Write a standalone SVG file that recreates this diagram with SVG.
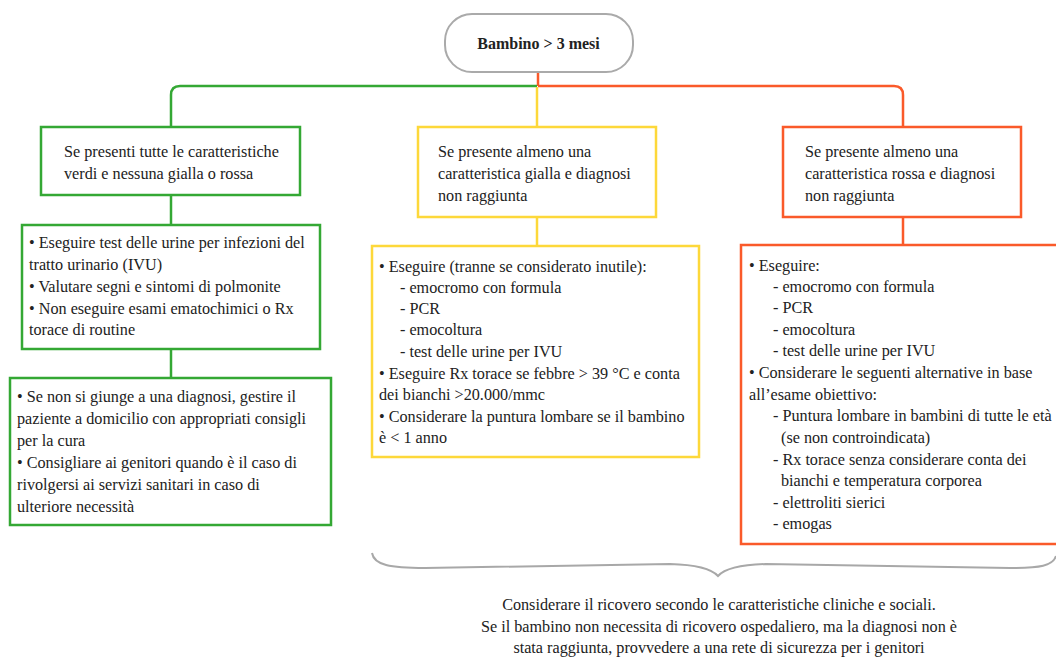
<svg xmlns="http://www.w3.org/2000/svg" width="1056" height="657" viewBox="0 0 1056 657">
  <style>
    .t { font-family: "Liberation Serif", "Times New Roman", Times, serif; font-size: 16.2px; fill: #222; }
    .b { font-weight: bold; font-size: 16px; }
    .box { fill: #fff; stroke-width: 2.5; }
    .g { stroke: #34A834; }
    .y { stroke: #FDD83A; }
    .r { stroke: #FA5A2A; }
    .line { fill: none; stroke-width: 2.5; }
  </style>
  <rect width="1056" height="657" fill="#fff"/>

  <!-- connectors -->
  <g id="connectors">
    <path class="line r" d="M538 72 V86"/>
    <path class="line g" d="M537 86 H180 Q171 86 171 95 V127"/>
    <path class="line r" d="M538 86 H894 Q903 86 903 95 V127"/>
    <path class="line y" d="M537 87 V127"/>
    <path class="line g" d="M171 195 V225"/>
    <path class="line g" d="M171 349 V378"/>
    <path class="line y" d="M537 217 V246"/>
    <path class="line r" d="M903 217 V245"/>
    <!-- brace gathering all branches -->
    <path d="M372 553 C374 565 390 568 425 568 L670 564 Q708 565 718 576 Q728 565 766 564 L1010 568 C1040 568 1053 566 1056 556" fill="none" stroke="#A8A8A8" stroke-width="2"/>
  </g>

  <g id="start">
    <rect x="445" y="14" width="188" height="58" rx="27" fill="#fff" stroke="#AAAAAA" stroke-width="2"/>
    <text class="t b" x="538.5" y="48.5" text-anchor="middle">Bambino &gt; 3 mesi</text>
  </g>

  <g id="green-condition">
    <rect class="box g" x="41" y="127" width="259" height="68"/>
    <text class="t" x="64" y="157">Se presenti tutte le caratteristiche</text>
    <text class="t" x="64" y="179">verdi e nessuna gialla o rossa</text>
  </g>

  <g id="yellow-condition">
    <rect class="box y" x="418" y="127" width="238" height="90"/>
    <text class="t" x="438" y="157">Se presente almeno una</text>
    <text class="t" x="438" y="179">caratteristica gialla e diagnosi</text>
    <text class="t" x="438" y="201">non raggiunta</text>
  </g>

  <g id="red-condition">
    <rect class="box r" x="783" y="127" width="238" height="90"/>
    <text class="t" x="805" y="157">Se presente almeno una</text>
    <text class="t" x="805" y="179">caratteristica rossa e diagnosi</text>
    <text class="t" x="805" y="201">non raggiunta</text>
  </g>

  <g id="green-actions">
    <rect class="box g" x="22" y="225" width="298" height="124"/>
    <text class="t" x="29" y="248">• Eseguire test delle urine per infezioni del</text>
    <text class="t" x="29" y="270">tratto urinario (IVU)</text>
    <text class="t" x="29" y="292">• Valutare segni e sintomi di polmonite</text>
    <text class="t" x="29" y="314">• Non eseguire esami ematochimici o Rx</text>
    <text class="t" x="29" y="335">torace di routine</text>
  </g>

  <g id="green-followup">
    <rect class="box g" x="10" y="378" width="321" height="147"/>
    <text class="t" x="17" y="402">• Se non si giunge a una diagnosi, gestire il</text>
    <text class="t" x="17" y="424">paziente a domicilio con appropriati consigli</text>
    <text class="t" x="17" y="446">per la cura</text>
    <text class="t" x="17" y="468">• Consigliare ai genitori quando è il caso di</text>
    <text class="t" x="17" y="490">rivolgersi ai servizi sanitari in caso di</text>
    <text class="t" x="17" y="512">ulteriore necessità</text>
  </g>

  <g id="yellow-actions">
    <rect class="box y" x="372" y="246" width="327" height="211"/>
    <text class="t" x="379" y="272">• Eseguire (tranne se considerato inutile):</text>
    <text class="t" x="400" y="293">- emocromo con formula</text>
    <text class="t" x="400" y="314">- PCR</text>
    <text class="t" x="400" y="335">- emocoltura</text>
    <text class="t" x="400" y="357">- test delle urine per IVU</text>
    <text class="t" x="379" y="379">• Eseguire Rx torace se febbre &gt; 39 °C e conta</text>
    <text class="t" x="379" y="400">dei bianchi &gt;20.000/mmc</text>
    <text class="t" x="379" y="422">• Considerare la puntura lombare se il bambino</text>
    <text class="t" x="379" y="443">è &lt; 1 anno</text>
  </g>

  <g id="red-actions">
    <rect class="box r" x="741" y="245" width="330" height="299"/>
    <text class="t" x="749" y="271">• Eseguire:</text>
    <text class="t" x="773" y="292">- emocromo con formula</text>
    <text class="t" x="773" y="313">- PCR</text>
    <text class="t" x="773" y="335">- emocoltura</text>
    <text class="t" x="773" y="356">- test delle urine per IVU</text>
    <text class="t" x="749" y="378">• Considerare le seguenti alternative in base</text>
    <text class="t" x="749" y="400">all’esame obiettivo:</text>
    <text class="t" x="773" y="421">- Puntura lombare in bambini di tutte le età</text>
    <text class="t" x="781" y="443">(se non controindicata)</text>
    <text class="t" x="773" y="465">- Rx torace senza considerare conta dei</text>
    <text class="t" x="781" y="486">bianchi e temperatura corporea</text>
    <text class="t" x="773" y="508">- elettroliti sierici</text>
    <text class="t" x="773" y="529">- emogas</text>
  </g>

  <g id="outcome">
    <text class="t" x="719" y="610" text-anchor="middle">Considerare il ricovero secondo le caratteristiche cliniche e sociali.</text>
    <text class="t" x="719" y="631.5" text-anchor="middle">Se il bambino non necessita di ricovero ospedaliero, ma la diagnosi non è</text>
    <text class="t" x="719" y="652.5" text-anchor="middle">stata raggiunta, provvedere a una rete di sicurezza per i genitori</text>
  </g>
</svg>
